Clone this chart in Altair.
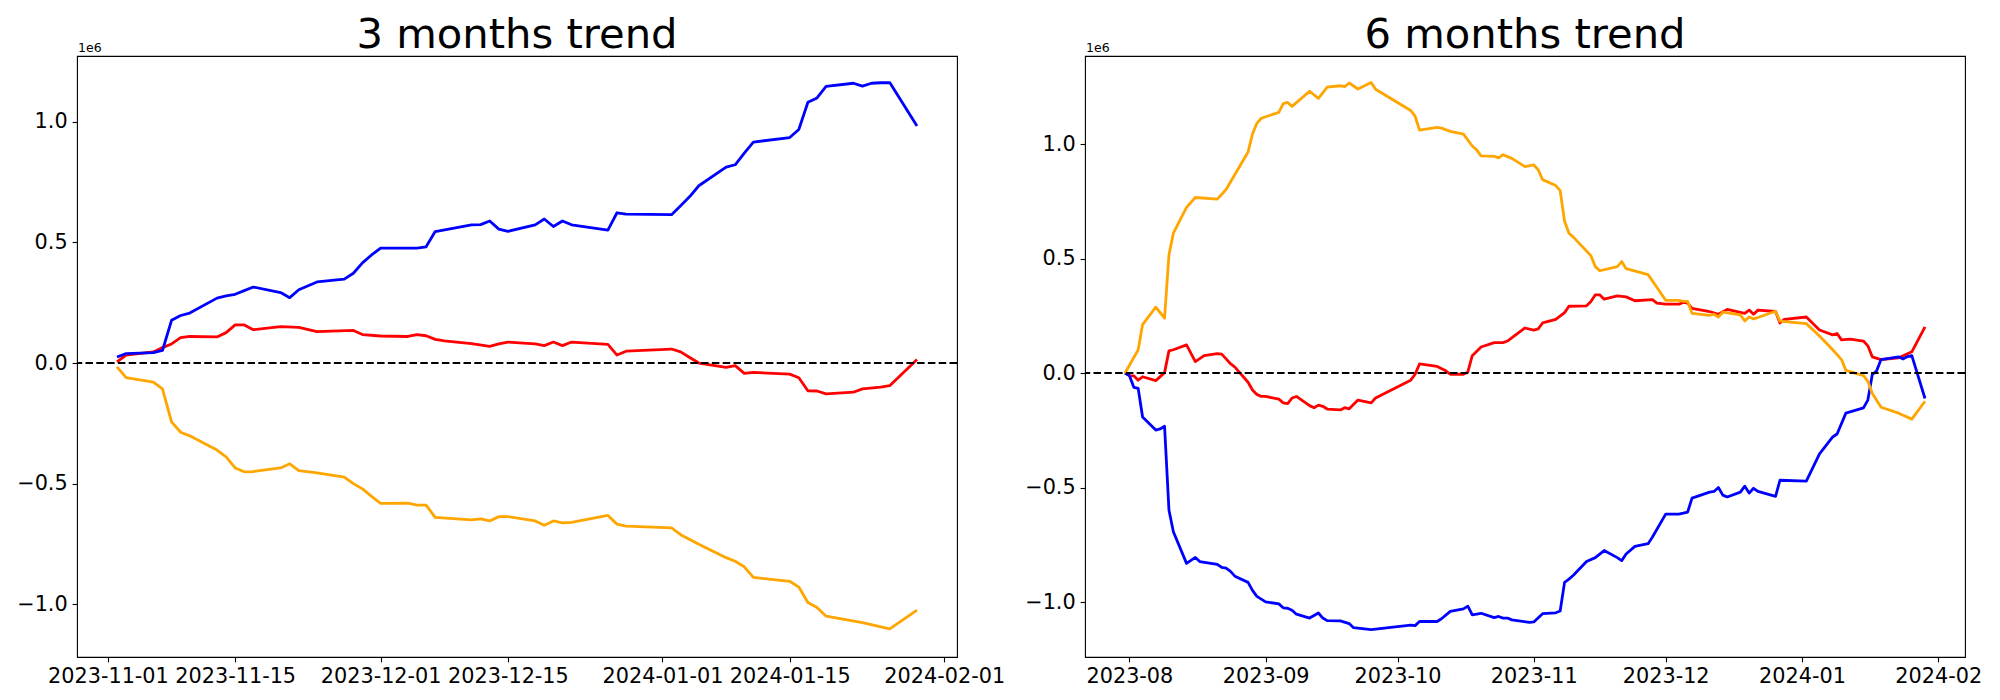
import altair as alt
import pandas as pd

# ---------------- 3 months panel ----------------
l_blue_dates = ["2023-11-02","2023-11-03","2023-11-06","2023-11-07","2023-11-08","2023-11-09","2023-11-10",
    "2023-11-13","2023-11-14","2023-11-15","2023-11-16","2023-11-17","2023-11-20","2023-11-21","2023-11-22",
    "2023-11-24","2023-11-27","2023-11-28","2023-11-29","2023-11-30","2023-12-01","2023-12-04","2023-12-05",
    "2023-12-06","2023-12-07","2023-12-11","2023-12-12","2023-12-13","2023-12-14","2023-12-15",
    "2023-12-18","2023-12-19","2023-12-20","2023-12-21","2023-12-22","2023-12-26","2023-12-27","2023-12-28",
    "2024-01-02","2024-01-03","2024-01-04","2024-01-05","2024-01-08","2024-01-09","2024-01-10","2024-01-11",
    "2024-01-15","2024-01-16","2024-01-17","2024-01-18","2024-01-19","2024-01-22","2024-01-23","2024-01-24",
    "2024-01-25","2024-01-26","2024-01-29"]
l_blue_vals = [0.025,0.039,0.043,0.052,0.177,0.197,0.207,
    0.269,0.278,0.285,0.300,0.315,0.292,0.271,0.304,
    0.336,0.348,0.372,0.415,0.448,0.476,0.476,0.476,
    0.482,0.545,0.573,0.574,0.589,0.555,0.546,
    0.573,0.597,0.566,0.589,0.573,0.551,0.623,0.617,
    0.615,0.652,0.690,0.735,0.812,0.822,0.870,0.916,
    0.935,0.968,1.081,1.099,1.147,1.160,1.148,1.160,
    1.162,1.163,0.983]

l_red_dates = ["2023-11-02","2023-11-03","2023-11-06","2023-11-07","2023-11-08","2023-11-09","2023-11-10",
    "2023-11-13","2023-11-14","2023-11-15","2023-11-16","2023-11-17","2023-11-20","2023-11-22","2023-11-24",
    "2023-11-28","2023-11-29","2023-12-01","2023-12-04","2023-12-05","2023-12-06","2023-12-07","2023-12-08",
    "2023-12-11","2023-12-13","2023-12-14","2023-12-15","2023-12-18","2023-12-19","2023-12-20","2023-12-21",
    "2023-12-22","2023-12-26","2023-12-27","2023-12-28","2024-01-02","2024-01-03","2024-01-04","2024-01-05",
    "2024-01-08","2024-01-09","2024-01-10","2024-01-11","2024-01-15","2024-01-16","2024-01-17","2024-01-18",
    "2024-01-19","2024-01-22","2024-01-23","2024-01-25","2024-01-26","2024-01-29"]
l_red_vals = [0.005,0.033,0.046,0.064,0.079,0.105,0.110,
    0.108,0.126,0.158,0.158,0.138,0.151,0.148,0.130,
    0.135,0.118,0.112,0.110,0.118,0.113,0.098,0.092,
    0.080,0.069,0.079,0.087,0.079,0.072,0.087,0.072,
    0.087,0.077,0.033,0.049,0.058,0.046,0.023,0.000,
    -0.018,-0.011,-0.043,-0.039,-0.046,-0.061,-0.115,-0.116,
    -0.128,-0.121,-0.107,-0.100,-0.094,0.015]

l_orange_dates = ["2023-11-02","2023-11-03","2023-11-06","2023-11-07","2023-11-08","2023-11-09","2023-11-10",
    "2023-11-13","2023-11-14","2023-11-15","2023-11-16","2023-11-17","2023-11-20","2023-11-21","2023-11-22",
    "2023-11-24","2023-11-27","2023-11-28","2023-11-29","2023-11-30","2023-12-01","2023-12-04","2023-12-05",
    "2023-12-06","2023-12-07","2023-12-11","2023-12-12","2023-12-13","2023-12-14","2023-12-15",
    "2023-12-18","2023-12-19","2023-12-20","2023-12-21","2023-12-22","2023-12-26","2023-12-27","2023-12-28",
    "2024-01-02","2024-01-03","2024-01-04","2024-01-05","2024-01-08","2024-01-09","2024-01-10","2024-01-11",
    "2024-01-15","2024-01-16","2024-01-17","2024-01-18","2024-01-19","2024-01-23","2024-01-26","2024-01-29"]
l_orange_vals = [-0.016,-0.061,-0.079,-0.107,-0.244,-0.287,-0.302,
    -0.361,-0.389,-0.435,-0.451,-0.450,-0.435,-0.418,-0.446,
    -0.456,-0.473,-0.500,-0.522,-0.553,-0.582,-0.581,-0.589,
    -0.589,-0.640,-0.650,-0.646,-0.655,-0.637,-0.637,
    -0.655,-0.673,-0.655,-0.663,-0.661,-0.632,-0.668,-0.676,
    -0.684,-0.712,-0.732,-0.751,-0.807,-0.822,-0.845,-0.889,
    -0.905,-0.929,-0.993,-1.014,-1.050,-1.076,-1.102,-1.025]

# ---------------- 6 months panel ----------------
r_blue_dates = ["2023-07-31","2023-08-01","2023-08-02","2023-08-03","2023-08-04","2023-08-07","2023-08-08",
    "2023-08-09","2023-08-10","2023-08-11","2023-08-14","2023-08-16","2023-08-17","2023-08-21","2023-08-22",
    "2023-08-23","2023-08-24","2023-08-25","2023-08-28","2023-08-29","2023-08-30","2023-09-01","2023-09-04",
    "2023-09-05","2023-09-06","2023-09-07","2023-09-08","2023-09-11","2023-09-13","2023-09-14","2023-09-15",
    "2023-09-18","2023-09-20","2023-09-21","2023-09-25","2023-10-04","2023-10-05","2023-10-06","2023-10-10",
    "2023-10-11","2023-10-13","2023-10-16","2023-10-17","2023-10-18","2023-10-20","2023-10-23","2023-10-24",
    "2023-10-25","2023-10-26","2023-10-27","2023-10-31","2023-11-01","2023-11-03","2023-11-06","2023-11-07",
    "2023-11-08","2023-11-09","2023-11-10","2023-11-13","2023-11-15","2023-11-17","2023-11-20","2023-11-21",
    "2023-11-22","2023-11-24","2023-11-27","2023-11-28","2023-12-01","2023-12-04","2023-12-05","2023-12-06",
    "2023-12-07","2023-12-11","2023-12-12","2023-12-13","2023-12-14","2023-12-15","2023-12-18","2023-12-19",
    "2023-12-20","2023-12-21","2023-12-22","2023-12-26","2023-12-27","2024-01-02","2024-01-05","2024-01-08",
    "2024-01-09","2024-01-11","2024-01-15","2024-01-16","2024-01-17","2024-01-18","2024-01-19","2024-01-23",
    "2024-01-24","2024-01-25","2024-01-26","2024-01-29"]
r_blue_vals = [0.000,-0.011,-0.062,-0.067,-0.192,-0.249,-0.244,
    -0.232,-0.598,-0.693,-0.831,-0.805,-0.823,-0.835,-0.849,
    -0.852,-0.866,-0.887,-0.914,-0.949,-0.975,-0.999,-1.008,
    -1.025,-1.027,-1.036,-1.053,-1.070,-1.048,-1.070,-1.081,
    -1.082,-1.094,-1.112,-1.120,-1.101,-1.103,-1.085,-1.085,
    -1.073,-1.041,-1.030,-1.018,-1.056,-1.049,-1.068,-1.063,
    -1.070,-1.070,-1.078,-1.089,-1.087,-1.051,-1.047,-1.039,
    -0.914,-0.900,-0.883,-0.823,-0.806,-0.775,-0.806,-0.819,
    -0.790,-0.757,-0.745,-0.716,-0.616,-0.616,-0.612,-0.607,
    -0.546,-0.520,-0.517,-0.500,-0.533,-0.541,-0.520,-0.494,
    -0.524,-0.503,-0.517,-0.538,-0.468,-0.472,-0.353,-0.279,
    -0.266,-0.175,-0.152,-0.118,-0.007,0.010,0.059,0.071,
    0.062,0.072,0.076,-0.111]

r_red_dates = ["2023-07-31","2023-08-01","2023-08-02","2023-08-03","2023-08-04","2023-08-07","2023-08-09",
    "2023-08-10","2023-08-11","2023-08-14","2023-08-16","2023-08-18","2023-08-21","2023-08-22","2023-08-23",
    "2023-08-24","2023-08-25","2023-08-28","2023-08-29","2023-08-30","2023-08-31","2023-09-01","2023-09-04",
    "2023-09-05","2023-09-06","2023-09-07","2023-09-08","2023-09-11","2023-09-12","2023-09-13","2023-09-14",
    "2023-09-15","2023-09-18","2023-09-19","2023-09-20","2023-09-22","2023-09-25","2023-09-26","2023-10-04",
    "2023-10-05","2023-10-06","2023-10-10","2023-10-12","2023-10-13","2023-10-16","2023-10-17","2023-10-18",
    "2023-10-20","2023-10-23","2023-10-25","2023-10-26","2023-10-30","2023-11-01","2023-11-02","2023-11-03",
    "2023-11-06","2023-11-08","2023-11-09","2023-11-13","2023-11-14","2023-11-15","2023-11-16","2023-11-17",
    "2023-11-20","2023-11-22","2023-11-24","2023-11-28","2023-11-29","2023-12-01","2023-12-04","2023-12-05",
    "2023-12-06","2023-12-07","2023-12-11","2023-12-13","2023-12-15","2023-12-19","2023-12-20","2023-12-21",
    "2023-12-22","2023-12-26","2023-12-27","2023-12-28","2024-01-02","2024-01-05","2024-01-08","2024-01-09",
    "2024-01-10","2024-01-12","2024-01-15","2024-01-16","2024-01-17","2024-01-19","2024-01-23","2024-01-26",
    "2024-01-29"]
r_red_vals = [0.000,-0.011,-0.012,-0.031,-0.016,-0.033,0.002,
    0.097,0.102,0.123,0.050,0.076,0.085,0.083,0.062,
    0.041,0.026,-0.040,-0.074,-0.093,-0.102,-0.102,-0.114,
    -0.130,-0.133,-0.109,-0.102,-0.142,-0.151,-0.140,-0.145,
    -0.157,-0.161,-0.151,-0.156,-0.118,-0.130,-0.109,-0.031,
    -0.005,0.040,0.029,0.010,-0.005,-0.005,0.005,0.076,
    0.114,0.133,0.133,0.140,0.197,0.188,0.193,0.219,
    0.235,0.264,0.292,0.294,0.313,0.342,0.342,0.323,
    0.337,0.333,0.316,0.321,0.306,0.301,0.301,0.309,
    0.306,0.283,0.269,0.257,0.278,0.261,0.275,0.257,
    0.275,0.269,0.219,0.235,0.245,0.188,0.167,0.173,
    0.145,0.148,0.140,0.119,0.071,0.059,0.067,0.093,
    0.202]

r_orange_dates = ["2023-07-31","2023-08-03","2023-08-04","2023-08-07","2023-08-09","2023-08-10","2023-08-11",
    "2023-08-14","2023-08-16","2023-08-21","2023-08-23","2023-08-28","2023-08-29","2023-08-30","2023-08-31",
    "2023-09-04","2023-09-05","2023-09-06","2023-09-07","2023-09-11","2023-09-13","2023-09-15","2023-09-18",
    "2023-09-19","2023-09-20","2023-09-22","2023-09-25","2023-09-26","2023-10-04","2023-10-05","2023-10-06",
    "2023-10-10","2023-10-11","2023-10-13","2023-10-16","2023-10-18","2023-10-19","2023-10-20","2023-10-23",
    "2023-10-24","2023-10-25","2023-10-27","2023-10-30","2023-11-01","2023-11-02","2023-11-03","2023-11-06",
    "2023-11-07","2023-11-08","2023-11-09","2023-11-10","2023-11-14","2023-11-15","2023-11-16","2023-11-20",
    "2023-11-21","2023-11-22","2023-11-27","2023-11-29","2023-12-01","2023-12-04","2023-12-05","2023-12-06",
    "2023-12-07","2023-12-11","2023-12-12","2023-12-13","2023-12-14","2023-12-18","2023-12-19","2023-12-20",
    "2023-12-21","2023-12-22","2023-12-26","2023-12-27","2024-01-02","2024-01-05","2024-01-08","2024-01-10",
    "2024-01-11","2024-01-15","2024-01-16","2024-01-17","2024-01-19","2024-01-23","2024-01-26","2024-01-29"]
r_orange_vals = [0.000,0.102,0.212,0.288,0.240,0.516,0.611,
    0.724,0.767,0.760,0.802,0.966,1.044,1.091,1.113,
    1.139,1.177,1.182,1.165,1.231,1.200,1.249,1.255,
    1.251,1.267,1.241,1.269,1.240,1.147,1.122,1.061,
    1.073,1.070,1.056,1.044,0.992,0.975,0.949,0.947,
    0.940,0.954,0.938,0.902,0.909,0.888,0.845,0.819,
    0.797,0.663,0.611,0.594,0.513,0.465,0.447,0.465,
    0.487,0.456,0.430,0.375,0.318,0.318,0.313,0.313,
    0.261,0.252,0.257,0.245,0.266,0.254,0.228,0.245,
    0.237,0.243,0.270,0.227,0.216,0.162,0.102,0.059,
    0.012,-0.011,-0.036,-0.088,-0.149,-0.175,-0.201,-0.123]

series_names = ["blue", "red", "orange"]
series_colors = ["#0000ff", "#ff0000", "#ffa500"]
draw_order = {"red": 0, "blue": 1, "orange": 2}

titles = ["3 months trend", "6 months trend"]
left_ticks = ["2023-11-01", "2023-11-15", "2023-12-01", "2023-12-15", "2024-01-01", "2024-01-15", "2024-02-01"]
right_ticks = ["2023-08-01", "2023-09-01", "2023-10-01", "2023-11-01", "2023-12-01", "2024-01-01", "2024-02-01"]
y_ticks = [-1.0, -0.5, 0.0, 0.5, 1.0]

W, H = 880, 601


def ms(s):
    return int(pd.Timestamp(s, tz="UTC").value // 1_000_000)


def frame(blocks):
    rows = []
    for name, dates, vals in blocks:
        for d, v in zip(dates, vals):
            rows.append({"date": d, "value": v * 1e6, "series": name})
    return pd.DataFrame(rows)


AX = dict(title=None, labelOverlap=False, labelFlush=False, grid=False, domain=False,
          labelFont="DejaVu Sans", labelFontSize=20.8, labelColor="black", tickColor="black",
          tickWidth=1.1, tickSize=4.9, labelPadding=4.9)


def panel(df, title, tick_dates, x_domain, y_domain, fmt):
    x_scale = alt.Scale(type="utc", domain=[ms(x_domain[0]), ms(x_domain[1])], nice=False)
    y_scale = alt.Scale(domain=[y_domain[0] * 1e6, y_domain[1] * 1e6], nice=False, zero=False)
    x_axis = alt.Axis(values=[ms(t) for t in tick_dates], labelExpr=f"utcFormat(datum.value, '{fmt}')", **AX)
    y_axis = alt.Axis(values=[v * 1e6 for v in y_ticks], labelExpr="format(datum.value / 1e6, '.1f')", **AX)
    layers = []
    for name in sorted(series_names, key=lambda n: draw_order[n]):
        layers.append(alt.Chart(df).transform_filter(alt.datum.series == name).mark_line(
            strokeWidth=2.8, strokeJoin="round", clip=True).encode(
            x=alt.X("date:T", scale=x_scale, axis=x_axis),
            y=alt.Y("value:Q", scale=y_scale, axis=y_axis),
            color=alt.Color("series:N", scale=alt.Scale(domain=series_names, range=series_colors), legend=None),
        ))
    zero = alt.Chart(pd.DataFrame({"v": [0.0]})).mark_rule(
        color="black", strokeWidth=2.0, strokeDash=[7.5, 3.3]).encode(y=alt.Y("v:Q"))
    offset = alt.Chart(pd.DataFrame({"t": ["1e6"]})).mark_text(
        align="left", baseline="alphabetic", fontSize=12.5, font="DejaVu Sans", color="black").encode(
        text="t:N", x=alt.value(1), y=alt.value(-4))
    ttl = alt.Chart(pd.DataFrame({"t": [title]})).mark_text(
        align="center", baseline="alphabetic", fontSize=41.7, font="DejaVu Sans", color="black").encode(
        text="t:N", x=alt.value(W / 2), y=alt.value(-8))
    return alt.layer(*layers, zero, offset, ttl).properties(width=W, height=H)


left_df = frame([("blue", l_blue_dates, l_blue_vals), ("red", l_red_dates, l_red_vals),
                 ("orange", l_orange_dates, l_orange_vals)])
right_df = frame([("blue", r_blue_dates, r_blue_vals), ("red", r_red_dates, r_red_vals),
                  ("orange", r_orange_dates, r_orange_vals)])

left = panel(left_df, titles[0], left_ticks, ("2023-10-28T14:24", "2024-02-02T09:36"), (-1.219, 1.273), "%Y-%m-%d")
right = panel(right_df, titles[1], right_ticks, ("2023-07-21T21:36", "2024-02-07T02:24"), (-1.24, 1.385), "%Y-%m")

chart = alt.hconcat(left, right, spacing=18).properties(
    padding={"left": 8, "top": 6, "right": 0, "bottom": 0},
    background="white",
).configure_view(stroke="black", strokeWidth=1.1)

chart.save("out.html", embed_options={"renderer": "svg", "actions": False})
